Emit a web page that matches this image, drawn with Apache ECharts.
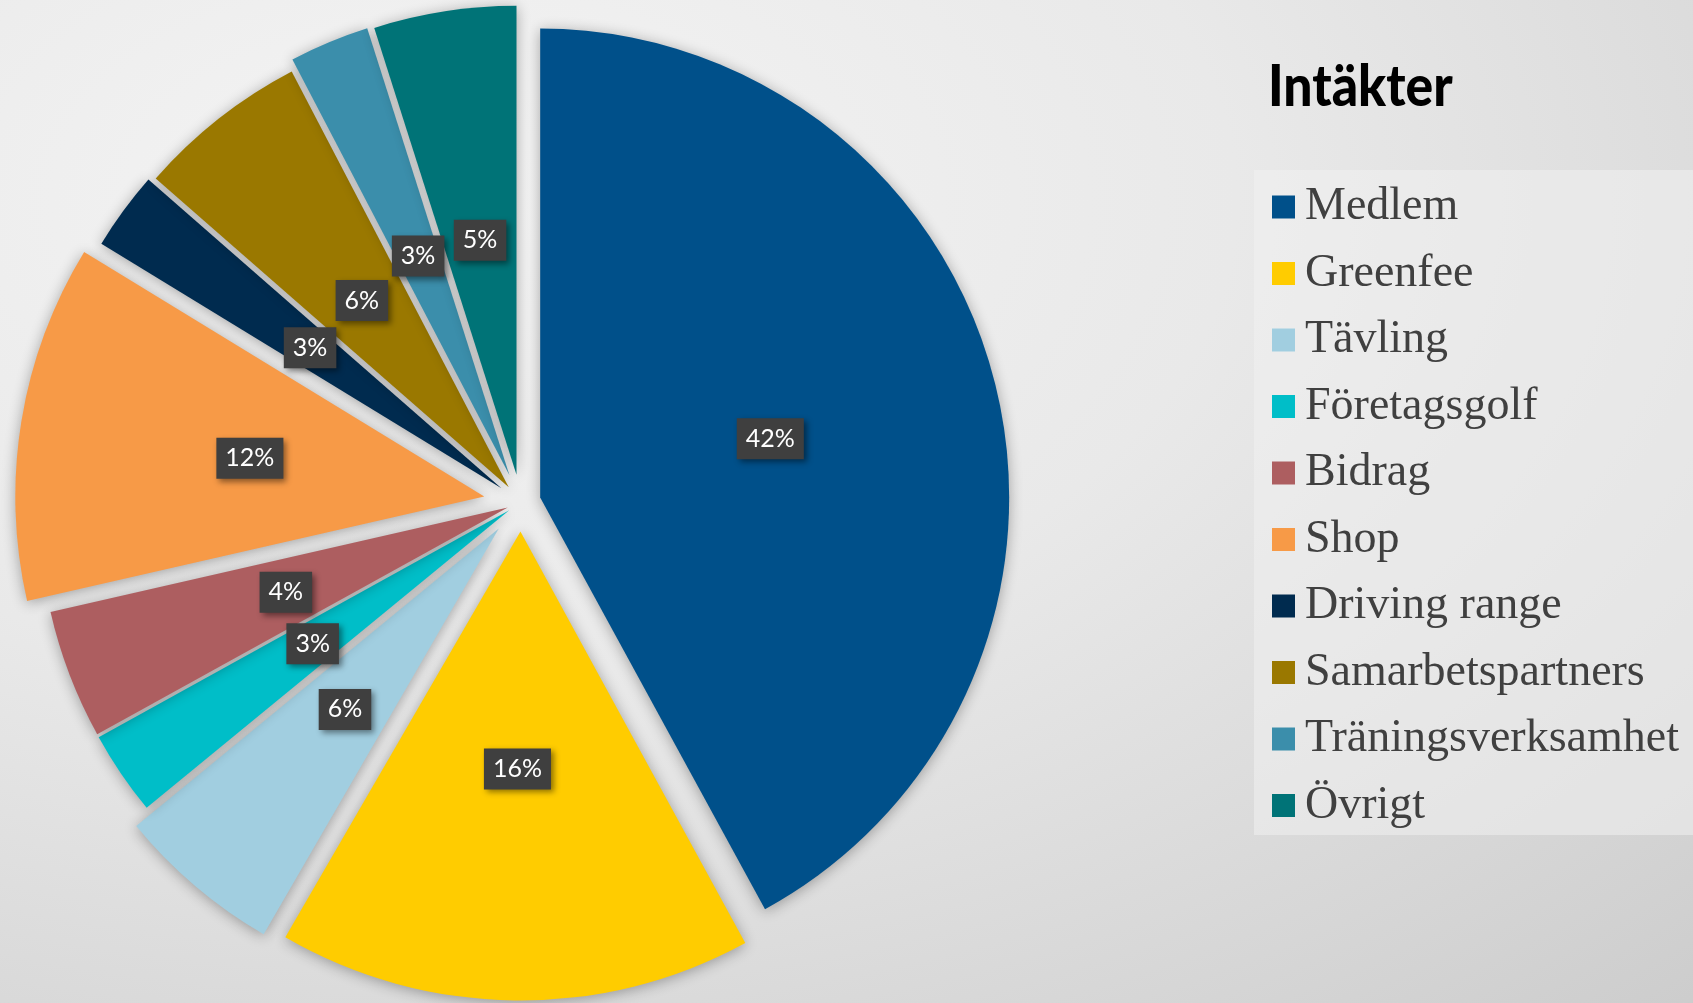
<!DOCTYPE html>
<html>
<head>
<meta charset="utf-8">
<script src="https://cdn.jsdelivr.net/npm/echarts@6/dist/echarts.min.js"></script>
<style>
  html, body { margin: 0; padding: 0; }
  #chart {
    width: 1693px; height: 1003px;
    background: radial-gradient(ellipse 120% 120% at 25% 20%, #f4f4f4 0%, #e9e9e9 40%, #d6d6d6 75%, #c8c8c8 100%);
  }
</style>
</head>
<body>
<div id="chart"></div>
<script>
const titleText = 'Intäkter';
const categories = ['Medlem', 'Greenfee', 'Tävling', 'Företagsgolf', 'Bidrag', 'Shop', 'Driving range', 'Samarbetspartners', 'Träningsverksamhet', 'Övrigt'];
const values = [42.0, 16.3, 5.7, 2.9, 4.45, 12.3, 2.7, 5.9, 2.75, 4.9];
const colors = ['#00508a', '#ffcc00', '#a1cee0', '#00bec8', '#ad5e60', '#f79a47', '#002b4f', '#9a7800', '#3b8eab', '#007377'];
// per-slice explosion distance (px), as in the reference
const explode = [20, 29, 34, 14, 14, 37, 24, 19.5, 29.5, 28];

const chart = echarts.init(document.getElementById('chart'), null, { renderer: 'canvas' });

const labelStyle = {
  show: true,
  position: 'inside',
  offset: [2, 3],
  formatter: p => Math.round(p.percent) + '%',
  fontFamily: 'Lato',
  fontSize: 25,
  color: '#ffffff',
  backgroundColor: '#3f3f3f',
  padding: [8, 9, 8, 9],
  shadowBlur: 6,
  shadowOffsetX: 3,
  shadowOffsetY: 3,
  shadowColor: 'rgba(0,0,0,0.45)'
};

// One pie layer per slice so each slice can have its own explosion distance.
const series = categories.map((cat, i) => ({
  type: 'pie',
  name: cat,
  center: [520.8, 502.5],
  radius: [0, 469],
  startAngle: 90,
  clockwise: true,
  selectedMode: 'multiple',
  selectedOffset: explode[i],
  avoidLabelOverlap: false,
  labelLine: { show: false },
  emphasis: { disabled: true },
  silent: true,
  z: 2,
  data: categories.map((name, j) => j === i ? {
    name: name,
    value: values[j],
    selected: true,
    itemStyle: {
      color: colors[j],
      borderWidth: 0,
      shadowBlur: 14,
      shadowOffsetY: 2,
      shadowColor: 'rgba(0,0,0,0.32)'
    },
    label: labelStyle
  } : {
    name: name,
    value: values[j],
    itemStyle: { color: 'rgba(0,0,0,0)', borderWidth: 0, shadowBlur: 0, shadowColor: 'rgba(0,0,0,0)' },
    label: { show: false }
  })
}));

chart.setOption({
  backgroundColor: 'transparent',
  animation: false,
  graphic: [{
    type: 'rect',
    shape: { x: 1254, y: 170, width: 439, height: 665 },
    style: { fill: 'rgba(240,240,240,0.55)' },
    z: -1
  }, {
    type: 'text',
    x: 1268,
    y: 58,
    scaleX: 0.89,
    style: {
      text: titleText,
      font: '900 58px Lato',
      fill: '#000000',
      verticalAlign: 'top'
    }
  }],
  legend: {
    orient: 'vertical',
    left: 1267,
    top: 179,
    itemWidth: 23,
    itemHeight: 23,
    itemGap: 20.5,
    icon: 'rect',
    selectedMode: false,
    itemStyle: { borderWidth: 0 },
    textStyle: { fontFamily: 'Liberation Serif', fontSize: 46, lineHeight: 46, color: '#404040', padding: [0, 0, 0, 5] },
    data: categories.map((name, i) => ({ name: name, itemStyle: { color: colors[i], borderWidth: 0 } }))
  },
  series: series
});
</script>
</body>
</html>
